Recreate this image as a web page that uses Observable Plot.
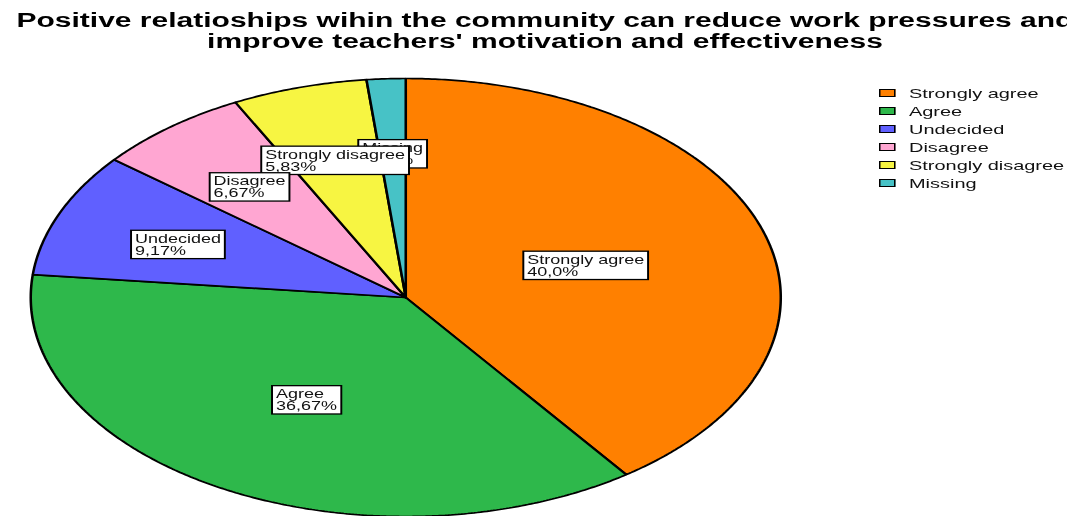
<!DOCTYPE html>
<html><head><meta charset="utf-8">
<script src="https://cdn.jsdelivr.net/npm/d3@7"></script>
<script src="https://cdn.jsdelivr.net/npm/@observablehq/plot@0.6"></script>
<style>
html,body{margin:0;padding:0;width:1067px;height:516px;overflow:hidden;background:#fff;font-family:"Liberation Sans",Arial,sans-serif;}
#wrap{position:absolute;left:0;top:0;width:711.33px;height:516px;transform:scaleX(1.5);transform-origin:0 0;}
#title{position:absolute;top:10px;left:-636.7px;width:2000px;text-align:center;font-weight:bold;font-size:20px;line-height:21px;color:#000;white-space:nowrap;}
#chart{position:absolute;left:0;top:60px;}
#legend{position:absolute;left:586px;top:84px;font-size:13.3px;color:#111;}
.row{display:flex;align-items:center;height:18px;}
.sw{box-sizing:border-box;width:10.7px;height:8px;border:1px solid #000;margin-right:9.3px;}
</style></head>
<body>
<div id="wrap">
  <div id="title"></div>
  <div id="chart"></div>
  <div id="legend"></div>
</div>
<script>
const titleLines = ["Positive relatioships wihin the community can reduce work pressures and", "improve teachers' motivation and effectiveness"];
const categories = ["Strongly agree", "Agree", "Undecided", "Disagree", "Strongly disagree", "Missing"];
const percents = [40.0, 36.67, 9.17, 6.67, 5.83, 1.67];
const colors = ["#ff8000", "#2eb84b", "#6060ff", "#ffa6d2", "#f7f542", "#47c2c6"];

const fmt = v => (Number.isInteger(v) ? v.toFixed(1) : String(v)).replace(".", ",") + "%";

document.getElementById("title").innerHTML = titleLines.join("<br>");

const leg = document.getElementById("legend");
categories.forEach((c, i) => {
  const row = document.createElement("div"); row.className = "row";
  const sw = document.createElement("div"); sw.className = "sw"; sw.style.background = colors[i];
  const tx = document.createElement("span"); tx.textContent = c;
  row.append(sw, tx); leg.append(row);
});

const arcs = d3.pie().sort(null).value(d => d.value)(categories.map((c, i) => ({category: c, value: percents[i]})));
const slicePts = [];
arcs.forEach(a => {
  const c = a.data.category;
  slicePts.push({category: c, x: 0, y: 0});
  const n = Math.max(2, Math.ceil((a.endAngle - a.startAngle) / (Math.PI / 360)));
  for (let k = 0; k <= n; k++) {
    const t = a.startAngle + (a.endAngle - a.startAngle) * k / n;
    slicePts.push({category: c, x: Math.sin(t), y: Math.cos(t)});
  }
  slicePts.push({category: c, x: 0, y: 0});
});

const labels = arcs.map(a => {
  const half = (a.endAngle - a.startAngle) / 2;
  const mid = a.startAngle + half;
  const r = (2 / 3) * Math.sin(half) / half;
  return {category: a.data.category, x: r * Math.sin(mid), y: r * Math.cos(mid), text: a.data.category + "\n" + fmt(a.data.value)};
}).reverse();

const chart = Plot.plot({
  width: 711, height: 456, margin: 0,
  x: {domain: [-1, 1], range: [20, 520], axis: null},
  y: {domain: [-1, 1], range: [456, 18], axis: null},
  color: {domain: categories, range: colors},
  style: {fontFamily: "'Liberation Sans', Arial, sans-serif", overflow: "visible", background: "none"},
  marks: [
    Plot.line(slicePts, {x: "x", y: "y", z: "category", fill: "category", stroke: "#000", strokeWidth: 1.7, curve: "linear", strokeLinejoin: "miter"}),
    Plot.text(labels, {x: "x", y: "y", dy: 2.5, text: "text", textAnchor: "start", fontSize: 12, fill: "#111", lineHeight: 1.0})
  ]
});
document.getElementById("chart").append(chart);

const ns = "http://www.w3.org/2000/svg";
Array.from(chart.querySelectorAll("text")).forEach(t => {
  const bb = t.getBBox();
  const g = document.createElementNS(ns, "g");
  g.setAttribute("transform", `translate(${-bb.width / 2},0)`);
  const r = document.createElementNS(ns, "rect");
  r.setAttribute("x", bb.x - 2.6);
  r.setAttribute("y", bb.y - 1.5);
  r.setAttribute("width", bb.width + 5.2);
  r.setAttribute("height", bb.height + 3);
  r.setAttribute("fill", "#fff");
  r.setAttribute("stroke", "#000");
  r.setAttribute("stroke-width", 1.3);
  if (t.getAttribute("transform")) r.setAttribute("transform", t.getAttribute("transform"));
  t.parentNode.insertBefore(g, t);
  g.append(r, t);
});
</script>
</body></html>
